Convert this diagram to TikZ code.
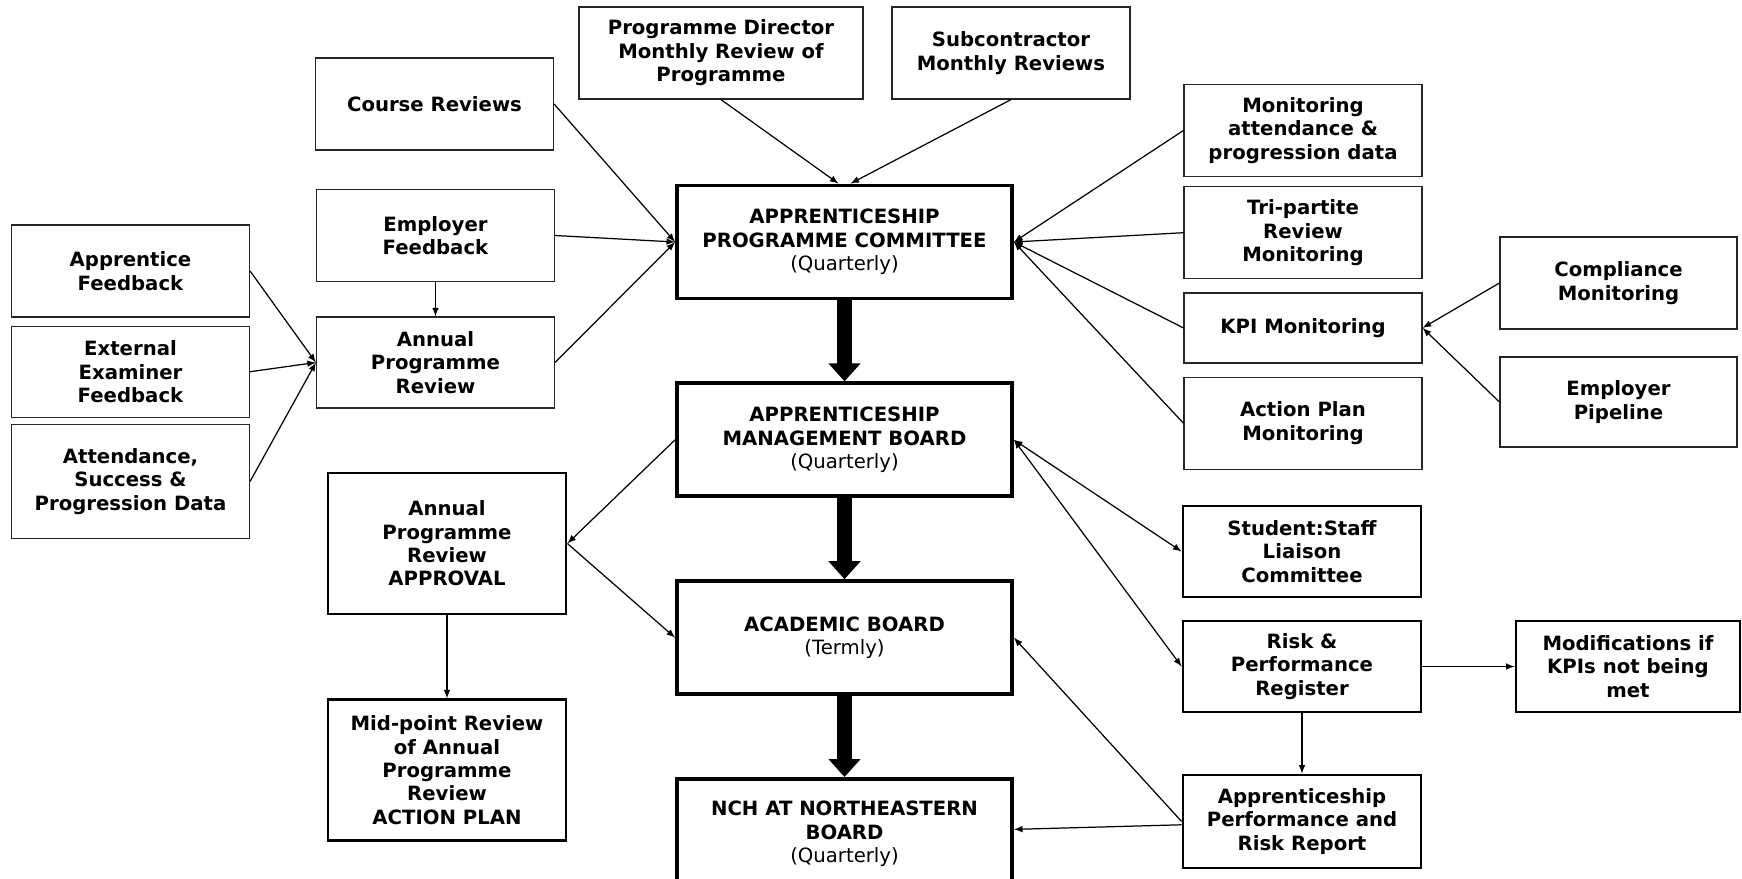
\documentclass[tikz,border=0pt]{standalone}
\usepackage{fontspec}
\setmainfont{DejaVu Sans}
\usetikzlibrary{positioning, arrows, arrows.meta}

\begin{document}
\begin{tikzpicture}[x=0.02cm, y=-0.02cm]
\tikzstyle{box}=[rectangle, draw=black!85, line width=0.7pt, align=center, inner sep=1pt, font=\fontsize{11.2}{13.3}\selectfont\bfseries, minimum width=4.76cm, minimum height=1.84cm]
\tikzstyle{tbox}=[box, draw=black, line width=1.6pt]
\tikzstyle{board}=[box, draw=black, line width=2.2pt, minimum width=6.7cm, minimum height=2.26cm]
\tikzstyle{connect}=[-latex, line width=0.7pt]
\tikzstyle{both}=[latex-latex, line width=0.7pt]
\tikzstyle{down}=[-{Triangle[width=0.62cm, length=0.36cm]}, line width=0.3cm]
\useasboundingbox (0,0) rectangle (1742,879);
% 1. Left inputs
%%%%%%%%%%
\node[box] (appfb) at (130.5,271) {Apprentice\\Feedback};
\node[box, minimum height=1.82cm] (extex) [below=0.16cm of appfb] {External\\Examiner\\Feedback};
\node[box, minimum height=2.28cm] (attend) [below=0.12cm of extex] {Attendance,\\Success \&\\Progression Data};
\node[box] (course) at (434.5,104) {Course Reviews};
\node[box] (empfb) at (435.5,235.5) {Employer\\Feedback};
\node[box, minimum height=1.82cm] (apr) at (435.5,362.5) {Annual\\Programme\\Review};
\node[box, minimum width=5.68cm] (pdir) at (721,53) {Programme Director\\Monthly Review of\\Programme};
\node[box] (subcon) at (1011,53) {Subcontractor\\Monthly Reviews};

% 2. Boards
%%%%%%%%%%
\node[board] (apc) at (844.5,242) {APPRENTICESHIP\\PROGRAMME COMMITTEE\\{\mdseries (Quarterly)}};
\node[board] (amb) [below=1.62cm of apc] {APPRENTICESHIP\\MANAGEMENT BOARD\\{\mdseries (Quarterly)}};
\node[board] (ab) [below=1.62cm of amb] {ACADEMIC BOARD\\{\mdseries (Termly)}};
\node[board, minimum height=2.2cm] (nch) [below=1.62cm of ab] {NCH AT NORTHEASTERN\\BOARD\\{\mdseries (Quarterly)}};
\node[tbox, minimum height=2.82cm] (approval) at (447,543.5) {Annual\\Programme\\Review\\APPROVAL};
\node[tbox, minimum height=2.82cm] (midpt) [below=1.66cm of approval] {Mid-point Review\\of Annual\\Programme\\Review\\ACTION PLAN};

% 3. Right side
%%%%%%%%%%
\node[box] (mon) at (1303,130.5) {Monitoring\\attendance \&\\progression data};
\node[box] (tri) [below=0.18cm of mon] {Tri-partite\\Review\\Monitoring};
\node[box, minimum height=1.4cm] (kpi) [below=0.26cm of tri] {KPI Monitoring};
\node[box] (action) [below=0.26cm of kpi] {Action Plan\\Monitoring};
\node[box, minimum width=4.74cm] (comp) at (1618.5,283) {Compliance\\Monitoring};
\node[box, minimum width=4.74cm, minimum height=1.8cm] (pipe) at (1618.5,402) {Employer\\Pipeline};
\node[tbox, minimum height=1.82cm] (staff) at (1302,551.5) {Student:Staff\\Liaison\\Committee};
\node[tbox, minimum height=1.82cm] (risk) at (1302,666.5) {Risk \&\\Performance\\Register};
\node[tbox, minimum width=4.48cm, minimum height=1.82cm] (mods) at (1628,666.5) {Modifications if\\KPIs not being\\met};
\node[tbox, minimum height=1.86cm] (report) at (1302,821.5) {Apprenticeship\\Performance and\\Risk Report};

% 4. Arrows
%%%%%%%%%%%
\path (course.east)  edge [connect] (apc.west)
      (empfb.east)   edge [connect] (apc.west)
      (apr.east)     edge [connect] (apc.west)
      (pdir.south)   edge [connect] ([xshift=-0.12cm]apc.north)
      (subcon.south) edge [connect] ([xshift=0.12cm]apc.north)
      (mon.west)     edge [connect] (apc.east)
      (tri.west)     edge [connect] (apc.east)
      (kpi.west)     edge [connect] (apc.east)
      (action.west)  edge [connect] (apc.east)
      (comp.west)    edge [connect] (kpi.east)
      (pipe.west)    edge [connect] (kpi.east)
      (appfb.east)   edge [connect] (apr.west)
      (extex.east)   edge [connect] (apr.west)
      (attend.east)  edge [connect] (apr.west)
      (empfb)        edge [connect] (apr)
      (amb.west)     edge [connect] (approval.east)
      (approval.east) edge [connect] (ab.west)
      (approval)     edge [connect] (midpt)
      (amb.east)     edge [both] (staff.west)
      (amb.east)     edge [both] (risk.west)
      (risk)         edge [connect] (mods)
      (risk)         edge [connect] (report)
      (report.west)  edge [connect] (ab.east)
      (report)       edge [connect] (nch);
\draw[down] (apc) -- (amb);
\draw[down] (amb) -- (ab);
\draw[down] (ab) -- (nch);
\end{tikzpicture}
\end{document}
